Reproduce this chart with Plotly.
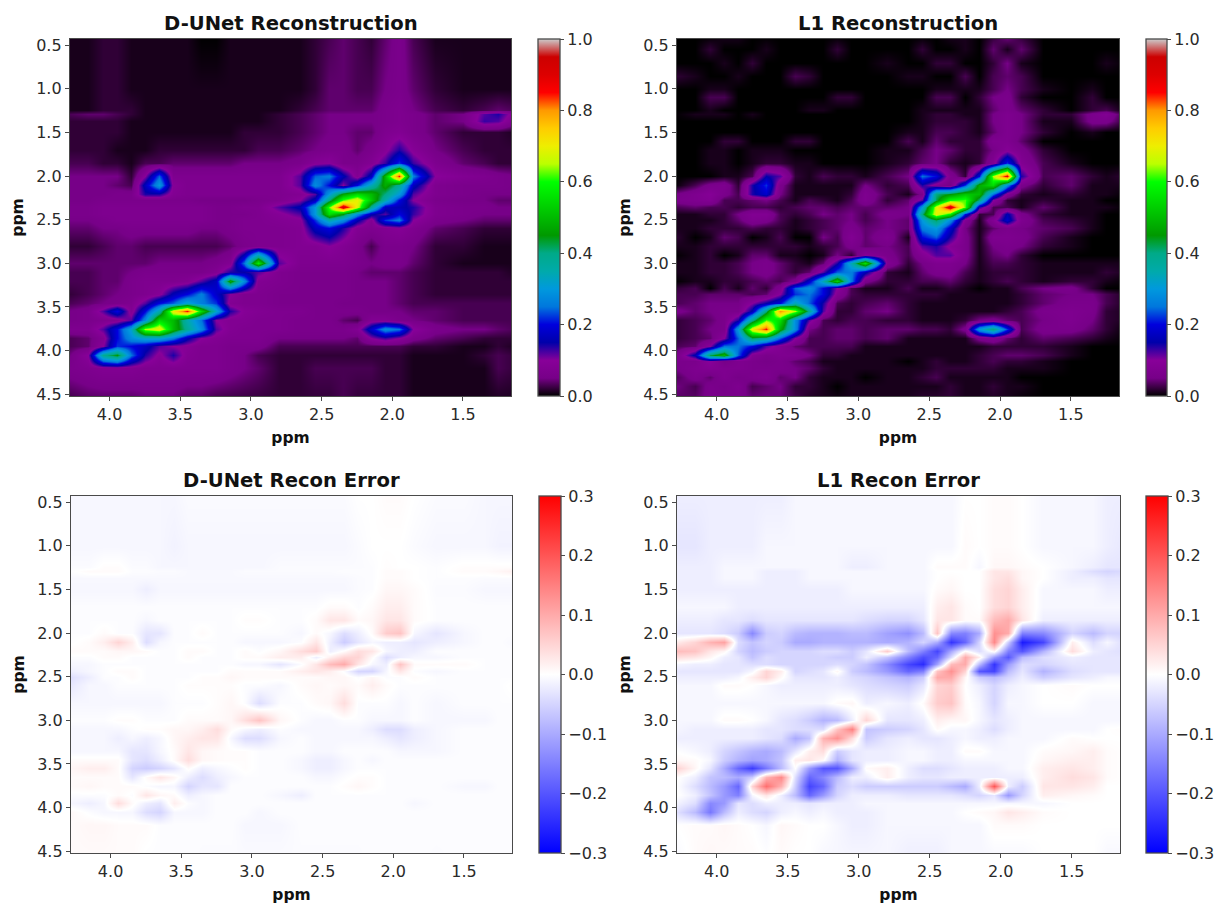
import plotly.graph_objects as go

ppm_x = [4.3,4.15,4.05,3.95,3.85,3.75,3.65,3.55,3.45,3.35,3.25,3.15,3.05,2.95,2.8,2.65,2.55,2.45,2.35,2.25,2.15,2.05,1.95,1.85,1.7,1.5,1.35,1.25,1.1]
ppm_y = [0.4,1.0,1.24,1.29,1.37,1.5,1.7,1.85,2.0,2.1,2.2,2.27,2.35,2.43,2.5,2.6,2.8,3.0,3.1,3.2,3.35,3.45,3.55,3.65,3.75,3.85,3.95,4.05,4.2,4.6]
ppm_y_l1 = [0.4,0.55,0.7,0.85,1.0,1.1,1.24,1.29,1.37,1.5,1.6,1.7,1.85,2.0,2.1,2.2,2.27,2.35,2.43,2.5,2.6,2.7,2.8,2.9,3.0,3.1,3.2,3.28,3.35,3.45,3.55,3.65,3.75,3.85,3.95,4.05,4.12,4.2,4.3,4.4,4.6]

dunet_recon = [
[1,1,2,2,1,1,1,1,1,0,0,1,1,1,1,1,2,3,4,3,2,4,6,3,1,1,1,1,1],
[1,1,2,2,1,1,1,1,1,1,1,1,1,1,1,1,2,4,4,3,3,5,6,4,2,1,1,1,1],
[1,1,2,2,2,1,1,1,1,1,1,1,1,1,1,2,3,4,4,4,4,6,7,5,3,2,3,4,3],
[3,4,4,3,2,1,1,1,1,1,1,1,1,1,2,3,4,5,5,5,5,6,7,6,4,5,12,14,6],
[2,2,2,2,1,1,1,1,1,1,1,1,1,1,2,3,4,5,5,5,5,6,7,6,4,5,13,12,4],
[2,2,2,2,1,1,1,1,1,1,1,1,2,2,2,3,4,5,5,4,4,7,8,6,4,2,2,2,1],
[2,2,2,1,1,1,2,2,2,2,2,2,2,3,3,4,5,6,6,4,6,9,14,9,5,3,2,2,2],
[3,3,2,2,1,3,3,4,4,4,4,4,5,5,5,6,9,10,6,6,8,13,22,13,7,4,3,2,2],
[5,5,5,5,2,10,24,7,7,7,7,7,7,7,7,12,24,26,16,8,17,50,85,26,10,8,7,6,5],
[5,5,5,4,3,17,30,9,7,7,7,7,7,7,7,12,28,20,10,20,34,48,38,17,7,6,6,6,5],
[5,5,5,6,6,14,14,8,7,7,7,7,7,7,7,8,12,30,47,55,50,40,30,12,7,6,5,5,5],
[5,5,6,6,6,6,6,6,6,5,5,5,5,6,7,10,17,40,62,70,52,35,20,10,6,5,5,4,4],
[6,6,7,7,7,7,7,7,7,7,6,6,7,7,12,16,30,62,92,68,38,17,16,14,7,6,6,5,5],
[6,6,7,7,7,7,7,7,7,7,6,6,6,7,9,12,30,55,45,28,16,12,20,13,7,6,5,5,5],
[5,5,6,7,7,7,7,7,7,7,6,6,7,7,8,9,22,35,28,16,8,22,26,10,6,5,4,4,4],
[4,4,5,5,6,6,6,6,6,5,5,6,7,7,7,8,17,20,14,8,7,8,9,7,4,3,2,2,2],
[2,2,3,4,4,3,3,3,3,3,3,4,6,7,7,8,8,10,8,6,3,6,6,5,2,2,1,1,1],
[4,4,4,4,4,4,5,5,5,5,6,8,25,58,12,7,7,7,7,6,5,6,6,4,2,1,1,1,1],
[3,3,4,4,5,6,6,6,6,6,8,14,15,12,7,6,6,6,6,5,4,4,4,3,2,2,2,2,1],
[3,3,4,4,6,7,7,7,8,12,17,48,28,8,7,6,6,6,6,5,5,5,4,3,2,2,2,2,2],
[2,3,4,5,6,7,9,16,20,26,18,10,7,7,6,6,6,6,6,5,5,5,4,3,2,2,2,2,2],
[3,4,5,6,7,12,20,24,32,26,22,8,7,7,6,6,6,6,5,5,5,5,4,3,3,3,3,3,3],
[5,6,12,20,8,20,35,70,85,55,32,14,9,8,7,7,6,6,6,6,5,5,5,4,4,3,3,3,3],
[5,6,7,8,12,28,55,50,35,25,10,8,8,7,7,6,6,6,4,3,8,8,6,5,4,3,3,3,3],
[7,7,12,20,32,65,70,50,38,28,12,8,7,7,7,6,6,6,6,8,18,28,25,10,6,5,5,4,3],
[3,4,8,20,28,32,32,26,16,10,8,7,7,7,5,5,5,5,5,4,10,13,10,6,4,3,2,2,2],
[3,4,10,22,20,17,12,10,9,7,7,6,6,6,3,3,3,3,3,3,3,3,3,2,2,1,1,2,1],
[4,10,38,45,25,14,9,14,8,7,7,6,5,3,2,2,2,2,2,2,2,2,2,1,1,1,2,3,2],
[6,7,8,8,8,7,7,7,7,7,7,6,5,4,2,2,3,3,3,3,3,2,2,1,1,1,1,3,2],
[2,3,3,3,3,4,4,4,3,3,2,2,2,2,2,2,2,2,3,2,2,2,2,1,1,1,1,1,1],
]

l1_recon = [
[0,0,0,1,1,0,0,0,0,0,0,0,0,0,0,0,0,0,1,1,0,2,5,2,0,0,0,0,0],
[0,0,2,0,0,0,1,0,0,0,0,2,0,0,0,0,2,0,0,1,0,4,1,4,0,0,0,0,0],
[0,0,0,1,0,2,0,0,0,0,0,0,0,0,1,0,0,2,2,0,0,2,5,1,0,0,0,1,0],
[2,1,0,0,1,0,0,0,3,2,0,0,0,0,0,1,1,0,0,3,0,3,4,3,0,0,0,0,0],
[0,0,1,1,0,0,0,0,0,0,0,0,0,0,0,0,0,1,1,1,1,3,5,3,1,0,1,0,0],
[0,0,3,3,0,0,0,0,0,0,0,2,2,0,0,0,0,3,3,0,2,5,6,2,0,0,2,0,0],
[0,0,1,0,0,0,0,0,0,1,1,0,0,0,0,0,1,1,1,1,1,4,6,4,2,0,2,3,0],
[0,1,1,1,0,1,0,0,0,0,0,0,0,0,0,0,1,2,2,1,1,5,7,5,2,2,6,8,1],
[0,0,0,0,0,0,0,0,0,0,0,0,0,0,0,0,1,2,2,2,1,5,7,5,1,1,6,6,1],
[0,0,0,0,0,0,0,0,0,0,0,0,0,0,0,1,1,3,3,2,1,4,7,5,2,0,1,0,0],
[0,0,0,2,2,0,0,0,2,2,0,0,0,0,0,3,1,4,2,2,2,7,7,4,0,0,0,0,0],
[0,0,1,1,0,1,1,1,0,0,0,0,0,0,1,1,3,5,4,2,2,5,9,6,2,0,0,0,0],
[0,0,1,1,0,1,2,2,1,1,0,0,0,0,1,2,4,5,2,1,2,8,22,8,3,1,0,0,0],
[0,0,0,1,1,3,15,12,2,1,3,2,2,1,3,5,25,20,7,2,20,65,88,14,3,4,2,1,2],
[0,3,6,7,2,14,22,6,1,1,1,1,1,5,2,3,14,8,5,22,48,55,28,6,2,4,1,1,1],
[5,7,9,6,3,14,18,5,1,1,1,1,2,7,3,1,6,40,45,52,50,25,8,2,1,2,1,1,0],
[6,7,8,3,3,4,5,3,1,3,2,1,3,7,2,4,12,42,60,62,40,10,2,1,2,1,1,0,0],
[3,4,3,3,2,3,3,2,3,4,4,3,4,4,4,5,30,68,92,62,14,3,3,1,4,1,1,1,0],
[1,1,2,2,5,8,8,3,2,3,5,4,5,3,6,5,40,70,58,20,2,3,16,6,2,1,1,0,0],
[1,1,1,2,4,7,6,3,1,2,3,4,5,3,5,4,30,42,28,8,1,8,18,7,3,2,1,0,0],
[1,1,2,2,2,3,2,2,1,2,3,4,6,4,5,4,26,30,18,5,1,4,6,5,4,3,1,0,0],
[2,0,1,4,3,0,1,3,0,0,5,3,8,4,7,1,20,24,14,6,1,7,7,6,3,1,0,0,0],
[1,1,2,2,2,2,2,2,2,1,2,3,6,4,5,3,12,14,9,6,1,5,6,5,2,1,0,0,0],
[0,1,2,0,1,4,4,1,1,0,1,5,2,9,6,3,8,12,12,6,1,4,5,2,0,0,0,0,0],
[1,1,2,2,3,5,6,4,2,1,4,14,34,56,8,2,5,7,7,5,1,3,3,2,1,1,1,1,1],
[1,1,2,2,3,5,6,4,2,4,12,24,26,16,2,1,4,6,6,3,1,2,2,2,1,1,1,2,1],
[0,1,1,2,2,3,4,3,6,18,34,54,26,6,2,2,3,3,4,2,1,2,3,2,1,2,2,1,0],
[2,3,0,3,1,4,2,7,24,28,20,10,3,1,1,3,1,1,2,1,0,1,1,3,5,6,2,0,0],
[3,3,4,4,4,3,4,10,22,25,20,8,3,2,2,2,2,2,1,1,1,1,1,2,4,5,5,3,1],
[3,4,5,5,5,10,15,20,34,24,14,3,2,3,4,2,1,1,1,1,1,1,1,2,4,6,6,3,1],
[6,4,5,6,6,16,40,80,65,38,12,2,2,4,5,2,1,1,1,1,1,1,2,3,6,7,6,2,1],
[2,3,4,6,14,38,62,55,28,12,3,2,3,3,2,2,1,1,1,2,5,6,4,3,5,7,5,2,1],
[2,3,5,6,30,70,85,48,28,5,3,4,4,3,4,4,3,3,2,6,30,40,22,3,6,6,4,2,0],
[2,3,4,10,24,42,38,24,10,3,3,4,4,3,4,1,1,1,1,1,6,8,4,2,4,3,2,1,0],
[3,4,10,25,25,20,12,8,4,3,3,3,3,1,1,1,1,1,1,1,1,2,2,2,2,1,0,0,0],
[4,16,42,50,24,8,6,7,7,5,2,2,1,1,1,1,1,1,1,1,2,3,4,4,3,1,0,0,0],
[6,6,10,5,7,6,5,6,4,3,1,1,1,1,1,0,1,2,1,1,2,3,2,2,1,0,0,0,0],
[5,7,8,7,7,6,6,6,5,4,2,1,1,1,1,1,1,2,2,2,2,2,1,1,1,0,0,0,0],
[3,6,4,7,5,6,7,4,5,2,1,1,1,0,1,1,2,3,1,1,1,1,1,0,0,0,0,0,0],
[5,3,6,5,7,3,4,5,2,2,1,0,1,1,1,1,1,1,2,1,1,2,1,1,0,0,0,0,0],
[3,4,6,6,5,5,5,4,3,1,1,1,1,1,1,1,2,2,2,1,1,1,1,0,0,0,0,0,0],
]

dunet_error = [
[-1,-1,-1,-1,-1,-1,-1,-1,-.5,-.5,-.5,-.5,-.5,-.5,-.5,-.5,-.5,-.5,-.5,0,0,.5,.5,0,-.5,-.5,-1,-1,-1],
[-1,-1,-1,-1,-1,-1,-1,-1.5,-1,-1,-1,-1,-1,-1,-1,-1,-1,-1,-1,-.5,0,0,0,-.5,-1,-1,-1,-1.5,-1.5],
[-.5,-.5,.3,.3,-.5,-.5,-1,-1,-1,-1,-1,-1,-1,-1,-.5,-.5,-.5,-.5,-.5,-.5,-.3,.3,0,0,-.3,.3,.3,.3,.3],
[-.3,.5,.5,.5,-.3,-.3,-.5,-.5,-.8,-.8,-.8,-.8,-.5,-.5,-.5,-.5,-.5,-.5,-.3,-.3,-.3,.5,.5,0,-.3,.5,.5,1,2],
[-.8,-.8,-.8,-.8,-.8,-.8,-.8,-.8,-.8,-.8,-.8,-.8,-.8,-.8,-.8,-.8,-.8,-.8,-.8,-.5,-.3,.5,.5,0,-.3,-.3,-.5,-.5,-.5],
[-1,-1,-1,-1,-1,-2,-1,-1,-1,-1,-1,-1,-1,-1,-1,-1,-1,-1,-1,-.5,-.3,1,1,.5,-.5,-.5,-1,-1,-1],
[-.3,-.3,-.3,-.3,-.3,-.3,-.3,-.3,-.3,-.3,-.3,-.3,-.3,-.3,-.3,-.3,-.3,.5,.5,-.3,.5,2,2,.5,-.3,-.3,-.3,-.3,-.3],
[-.3,-.3,-.3,-.3,-.3,-1,-.3,-.3,-.3,-.3,-.3,-.3,.3,.3,-.3,-.3,.5,3,3,.5,1,3,3,.5,-.3,-.3,-.3,-.3,-.3],
[-.3,-.3,.5,-.3,-.3,-3,-3,-.3,-.3,.5,-.3,-.3,-.3,-.3,-.3,-1,.5,-1,-4,-2,.5,6,7,-1,-3,-1,-.3,-.3,-.3],
[-.3,.5,2,5,2,-4,-1,-.3,-.3,-.3,-.3,-.3,-1,-1,-1,-.3,3,-2,-6,-3,-1,-2,-2,-3,-2,-1,-.3,-.3,-1],
[.5,.5,.5,1,1,.5,-.3,-.3,.5,.5,-.3,-.3,.5,-.3,1,4,6,-2,.5,4,3,-1,-2,-2,-.3,-.3,-.3,-.3,-.3],
[-.3,-.3,.5,.5,-.3,-.3,-.3,-.3,.5,-.3,-.3,-.3,.5,.5,2,2,-2,2,5,5,.5,-4,-2,-1,-1,-.3,-.3,-.3,-.3],
[-1,-1,-.3,-.3,-.3,-.3,-.3,-.3,-.3,-.3,-.3,-.3,-1,-1,-3,-.3,3,8,10,3,-1,-2,7,.5,.5,.5,-.3,-.3,-.3],
[-2,-1,-.3,.5,.5,-.3,-.3,-.3,-.3,-.3,-.3,.5,.5,.5,.5,2,3,2,-.3,-5,-5,-1,3,-.3,-1,-.3,-.3,-.3,-.3],
[-4,-2,-.3,-.3,.5,-.3,-.3,-.3,-.3,.3,.3,1,.5,.5,.5,.5,.5,1,1,-.3,1,-.3,-.3,.5,-.3,-.3,-.3,-.3,-.3],
[-3,-1,-1,-.3,-.3,-.3,-.3,-.3,.3,.3,.3,.3,-.3,-.3,-1,.5,1,.5,1,.5,2,.5,-.3,-.3,-.3,-.3,-.3,-.3,.5],
[-1,-1,-1,-1,-1,-1,-1,-.3,-.3,-.3,.3,1,-.3,-4,-.3,-.3,.5,1,4,-.3,-.3,-.3,-1,-.3,-1,-.3,-.3,-.3,-.3],
[-.3,-.3,-.3,.3,.3,-.3,-.3,-.3,.5,.5,.5,1,4,7,1,-.3,-1,-1,-.3,-.3,-1,-1,-1,-.3,-1,-1,-1,-.3,-.3],
[-1,-1,-1,-1,-.3,.3,.3,1,1,2,4,.5,-1,-2,-.3,-1,-1,-1,-1,-1,-2,-4,-4,-2,-1,-.3,-.3,-.3,-.3],
[-1,-1,-1,-2,-1,-2,-1,1,2,3,3,-1,-4,-4,-1,-.3,-1,-1,-1,-1,-1,-2,-3,-2,-1,-.3,-.3,-.3,-.3],
[-1,-1,-1,-1,-3,-3,-1,.5,3,1,.5,.3,.3,-.3,-.3,-.3,-1,-1,-.3,-.3,-.3,-.3,-1,-1,-1,-.3,-.3,-.3,-.3],
[.5,.5,.5,.5,-3,-4,-2,.5,4,1,.5,.3,.3,-.3,-.3,-1,-2,-2,-1,-.3,-1,-.3,-.3,-.3,-.3,-.3,-.3,-.3,-.3],
[1,2,2,.5,-5,-6,-5,-3,.5,-2,-1,-.3,.3,-.3,-.3,-1,-2,-2,-1,-.3,-.3,-.3,-.3,-.3,-.3,-.3,-.3,-.3,-.3],
[.5,.5,.5,.5,-3,.5,3,1,-2,-4,-2,-1,-.3,-.3,-.3,-.3,-1,-1,-.3,.3,.3,-.3,-.3,-.3,-.3,-.3,-.3,-.3,-.3],
[.5,1,.5,.5,.5,-.3,-1,-1,-5,-3,-3,-.3,-.3,-.3,-.3,-.3,-.3,-.3,.3,1,.3,-.3,-.3,-.3,-.3,-1,-1,-.3,-.3],
[-.3,-.3,-.3,.5,-.3,3,1,.5,-2,-1,-.3,-.3,-.3,-.3,-1,-2,-.3,-.3,-.3,-.3,-.3,-.3,-.3,-.3,-.3,-.3,-.3,-.3,-.3],
[-1,-2,-1,4,.5,-2,-3,2,-.3,-1,-.3,-.3,-.3,-.3,-.3,-.3,-.3,-.3,-.3,-.3,-.3,-.3,-.3,-1,-.3,-.3,-.3,-.3,-.3],
[1,-.3,-1,-1,-1,-4,-5,-1,-1,-1,-.3,-.3,-.3,-1,-.3,-.3,-.3,-.3,-.3,-.3,-.3,-.3,-.3,-.3,-.3,-.3,-.3,-.3,-.3],
[.5,1,1,.5,.5,.5,-.3,-.3,-.3,-.3,-.3,-.3,-1,-1,-1,-.3,-.3,-.3,-.3,-.3,-.3,-.3,-.3,-.3,-.3,-.3,-.3,-.3,-.3],
[.5,.5,.5,.5,.5,-.3,-.3,-.3,-.3,-.5,-.5,-.5,-.5,-.5,-.5,-.5,-.5,-.5,-.5,-.5,-.3,-.3,-.3,-.3,-.5,-.3,-.3,-.3,-.3],
]

l1_error = [
[-2,-2,-2,-2,-2,-2,-2,-2,-1,-1,-1,-1,-1,-1,-1,-1,-1,-1,-1,0,0,.5,.5,0,-1,-1,-1,-2,-2],
[-3,-3,-2,-2,-2,-2,-1,-1,-1,-1,-1,-1,-1,-1,-1,-1,-1,-1,-1,.5,0,.5,.5,0,-1,-1,-1,-2,-3],
[-2,-2,-2,-1,-1,-1,-1,-1,-1,-1,-1,-1,-2,-2,-1,-1,-1,.5,.5,.5,-1,1,1,.5,0,-1,-2,-3,-3],
[-2,-2,-2,-1,-1,-1,-2,-2,-2,-1,-1,-1,-1,-1,-1,-1,-1,0,0,0,0,3,3,1,0,-2,-4,-5,-4],
[-2,-2,-2,-1,-1,-1,-2,-2,-2,-1,-1,-1,-1,-1,-1,-1,-1,0,.5,0,0,3,4,1,0,-2,-2,-3,-3],
[-2,-2,-2,-2,-2,-2,-2,-2,-2,-2,-2,-2,-1,-1,-1,-1,-1,.5,1,0,0,4,5,2,-1,-1,-1,-2,-2],
[-1,-1,-1,-1,-2,-2,-2,-2,-2,-2,-2,-2,-2,-2,-2,-2,-2,2,3,.5,0,4,5,2,-1,-1,-1,-1,-1],
[-2,-2,-2,-3,-3,-4,-3,-3,-3,-3,-3,-3,-3,-4,-5,-5,-3,3,3,.5,.5,8,10,3,-2,-2,-2,-2,-2],
[-3,-3,-3,-4,-6,-14,-6,-5,-8,-9,-9,-9,-8,-8,-11,-13,-8,7,-14,-15,-10,13,10,-15,-14,-5,-8,-5,-5],
[2,5,9,11,-4,-7,-5,-6,-10,-10,-9,-9,-9,-9,-10,-9,-5,-10,-24,-18,-5,14,-6,-27,-22,2,-4,-1,-5],
[8,7,3,1,-5,-8,-6,-5,-5,-5,-4,-4,-6,-3,6,-8,-15,-22,-10,.5,-4,1,-15,-20,-9,4,-2,-3,-4],
[4,3,1,-2,-3,-7,-4,-5,-5,-5,-5,-6,-6,-2,-7,-15,-21,-18,-4,10,2,-12,-20,-8,-4,-2,-3,-3,-3],
[-1,-2,-2,-3,-3,-4,-4,-5,-5,-5,-5,-4,-5,-7,-14,-22,-25,-11,8,10,-8,-24,-12,-4,-5,-3,-3,-3,-3],
[-3,-3,-3,-3,-3,-1,5,2,-5,-4,-3,1,-6,-8,-12,-18,-15,7,13,5,-20,-22,-8,-3,-9,-4,-3,-3,-3],
[-2,-2,-2,-2,-1,2,5,.5,-3,-3,-3,-2,-4,-5,-7,-9,-6,10,10,1,-6,-8,-5,-2,-6,-3,-2,-1,-1],
[-1,-1,-1,.5,.5,0,-1,-2,-2,-2,-2,-2,-3,-4,-5,-6,-3,5,6,0,-2,-5,-2,-1,0,.5,0,0,0],
[-1,-1,-1,-1,-1,-1,-1,-1,-1,-1,-1,.5,1,-2,-1,-2,.5,6,7,.5,-1,-5,-1,-1,0,0,-1,-1,-1],
[-1,-1,-1,.5,.5,0,-1,-3,-4,-6,-9,-8,-2,5,-3,-3,-2,2,1,1,-1,-3,-2,-1,-1,-1,-1,-1,-1],
[-1,-2,-2,-2,-2,-2,-3,-3,-4,-4,-4,7,15,-7,-6,-5,-3,.5,-1,-1,-2,-4,-2,-1,-1,-1,-1,0,.5],
[-2,-2,-2,-2,-2,-2,-3,-4,-10,-7,9,13,4,-6,-3,-2,-3,-3,-2,-1,-2,-2,-1,-1,-1,.5,0,0,0],
[0,-1,-2,-5,-7,-9,-10,-8,-3,2,4,-6,-3,-2,-2,-1,-1,-2,-2,.5,.5,-1,-1,-1,.5,1,2,.5,0],
[1,.5,-1,-6,-9,-11,-10,-7,2,3,.5,-9,-3,-2,-2,-1,-1,-2,-2,-1,-1,-1,-1,-1,1,2,2,.5,0],
[6,1,-3,-10,-18,-23,-16,-8,0,-12,-20,-20,-10,.5,2,-2,-4,-4,-3,-2,-2,-2,-1,-1,2,3,2,.5,0],
[.5,-2,-7,-8,-10,-6,9,14,-4,-18,-14,-8,-2,-2,2,-2,-3,-3,-2,-2,-2,-2,-2,-2,2,4,3,.5,0],
[.5,-4,-8,-12,-18,5,17,9,-6,-22,-18,-6,-4,-6,-6,-6,-6,-6,-8,-10,-2,20,-2,-6,3,3,2,0,0],
[.5,-2,-7,-12,-15,-1,3,-2,-8,-18,-12,-5,-2,-2,-2,-3,-3,-3,-3,-4,-5,-3,-12,-5,2,1,.5,0,0],
[-1,-4,-14,-12,-3,-4,-2,-2,-2,-3,-2,-2,-2,-1,-1,-1,-1,-1,-1,-1,-1,-1,-1,-1,-1,0,0,0,0],
[-3,-8,-16,-8,-2,-4,-5,-2,-1,-2,-1,-2,-2,-2,-1,-1,-1,-1,-1,0,.5,1,3,2,.5,0,0,0,0],
[0,.5,.5,1,.5,0,-1,1,.5,0,0,-1,-2,-2,-1,-1,-1,-1,-1,-1,-1,.5,.5,.5,0,0,0,0,0],
[-1,.5,1,.5,.5,.5,0,.5,0,0,-1,-1,-1,-1,-1,-2,-2,-2,-1,-1,-1,-1,-1,-1,0,0,0,-1,-1],
]

for name, m, ys in [("a", dunet_recon, ppm_y), ("b", l1_recon, ppm_y_l1), ("c", dunet_error, ppm_y), ("d", l1_error, ppm_y)]:
    assert len(m) == len(ys), (name, len(m), len(ys))
    for i, r in enumerate(m):
        assert len(r) == len(ppm_x), (name, i, len(r))

titles = ["D-UNet Reconstruction", "L1 Reconstruction", "D-UNet Recon Error", "L1 Recon Error"]
ppm_ticks = [0.5, 1.0, 1.5, 2.0, 2.5, 3.0, 3.5, 4.0, 4.5]
ppm_ticks_x = [4.0, 3.5, 3.0, 2.5, 2.0, 1.5]
recon_ticks = [0, 0.2, 0.4, 0.6, 0.8, 1.0]
error_ticks = [-0.3, -0.2, -0.1, 0, 0.1, 0.2, 0.3]

nipy = [(0,"#000000"),(.05,"#770088"),(.10,"#880099"),(.15,"#0000aa"),(.20,"#0000dd"),(.25,"#0077dd"),
        (.30,"#0099dd"),(.35,"#00aaaa"),(.40,"#00aa88"),(.45,"#009900"),(.50,"#00bb00"),(.55,"#00dd00"),
        (.60,"#00ff00"),(.65,"#bbff00"),(.70,"#eeee00"),(.75,"#ffcc00"),(.80,"#ff9900"),(.85,"#ff0000"),
        (.90,"#dd0000"),(.95,"#cc0000"),(1,"#cccccc")]
bwr = [(0,"#0000ff"),(.5,"#ffffff"),(1,"#ff0000")]

W, H = 1215, 906
panels = [
    dict(z=dunet_recon, ys=ppm_y, cs=nipy, lo=0, hi=1, ticks=recon_ticks, box=(70,511,39,396), cb=(538,560)),
    dict(z=l1_recon, ys=ppm_y_l1, cs=nipy, lo=0, hi=1, ticks=recon_ticks, box=(677,1119,39,396), cb=(1146,1167)),
    dict(z=dunet_error, ys=ppm_y, cs=bwr, lo=-.3, hi=.3, ticks=error_ticks, box=(71,512,496,853), cb=(539,561)),
    dict(z=l1_error, ys=ppm_y, cs=bwr, lo=-.3, hi=.3, ticks=error_ticks, box=(677,1120,496,853), cb=(1146,1168)),
]
TXT = "#2a2a2a"
LINE = "#4a4a4a"
FONT = "DejaVu Sans"
TICK = 16

fig = go.Figure()
layout = dict(width=W, height=H, margin=dict(l=0, r=0, t=0, b=0, autoexpand=False), paper_bgcolor="white",
              plot_bgcolor="white", font=dict(family=FONT, size=TICK, color=TXT), annotations=[])

for i, (p, title) in enumerate(zip(panels, titles)):
    n = "" if i == 0 else str(i + 1)
    x0, x1, y0, y1 = p["box"]
    fig.add_trace(go.Heatmap(
        z=[[v / 100 for v in row] for row in p["z"]], x=ppm_x, y=p["ys"], zsmooth="best",
        colorscale=p["cs"], zmin=p["lo"], zmax=p["hi"], xaxis="x" + n, yaxis="y" + n,
        colorbar=dict(x=p["cb"][0] / W, xanchor="left", thickness=p["cb"][1] - p["cb"][0], thicknessmode="pixels",
                      lenmode="fraction", len=(y1 - y0) / H, y=1 - y1 / H, yanchor="bottom", ypad=0, xpad=0,
                      outlinecolor=LINE, outlinewidth=1.3, tickvals=p["ticks"], tickformat=".1f",
                      ticks="outside", ticklen=4, tickwidth=1.3, tickcolor=LINE,
                      tickfont=dict(size=TICK, color=TXT, family=FONT))))
    layout["xaxis" + n] = dict(domain=[x0 / W, x1 / W], range=[4.28, 1.16], anchor="y" + n, tickvals=ppm_ticks_x,
                               tickformat=".1f", ticks="outside", ticklen=4, tickwidth=1.3, tickcolor=LINE,
                               showgrid=False, zeroline=False, showline=True, mirror=True, linecolor=LINE, linewidth=1.3,
                               title=dict(text="ppm", font=dict(size=15.5, weight="bold", color="#111111"), standoff=8))
    layout["yaxis" + n] = dict(domain=[1 - y1 / H, 1 - y0 / H], range=[4.52, 0.43], anchor="x" + n, tickvals=ppm_ticks,
                               tickformat=".1f", ticks="outside", ticklen=4, tickwidth=1.3, tickcolor=LINE,
                               showgrid=False, zeroline=False, showline=True, mirror=True, linecolor=LINE, linewidth=1.3,
                               title=dict(text="ppm", font=dict(size=15.5, weight="bold", color="#111111"), standoff=8))
    layout["annotations"].append(dict(text="<b>%s</b>" % title, xref="paper", yref="paper", x=(x0 + x1) / 2 / W,
                                      y=1 - (y0 - 2) / H, yanchor="bottom", xanchor="center", showarrow=False,
                                      font=dict(size=19.6, color="#111111", family=FONT)))

fig.update_layout(**layout)
fig.write_html("out.html", config=dict(displayModeBar=False), post_script="document.body.style.margin='0';")
